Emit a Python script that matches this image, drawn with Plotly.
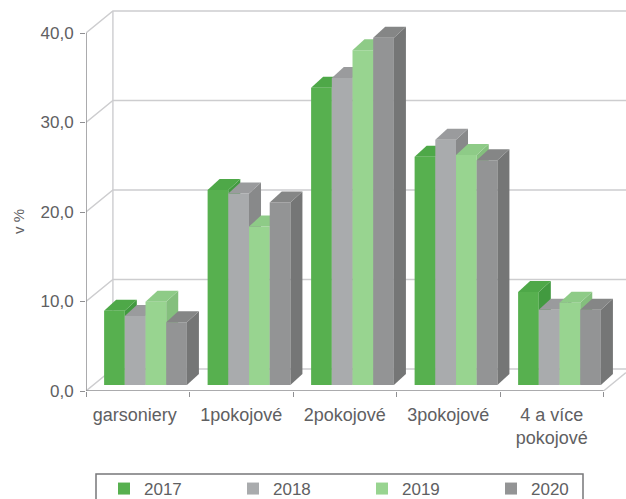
import plotly.graph_objects as go

categories = ["garsoniery", "1pokojové", "2pokojové", "3pokojové", "4 a více<br>pokojové"]
years = ["2017", "2018", "2019", "2020"]
v2017 = [8.3, 21.8, 33.2, 25.5, 10.4]
v2018 = [7.7, 21.4, 34.3, 27.4, 8.4]
v2019 = [9.3, 17.7, 37.4, 25.7, 9.2]
v2020 = [7.0, 20.4, 38.8, 25.1, 8.4]
series = [v2017, v2018, v2019, v2020]
front = ["#57b04f", "#a9abad", "#98d490", "#939495"]
top = ["#4ea848", "#9a9b9d", "#8ecb87", "#858686"]
side = ["#429a40", "#88898a", "#84bf7d", "#757676"]
y_ticks = [0, 10, 20, 30, 40]

W, H = 626, 499
LEFT, BOTTOM = 86, 108
X_MAX = (W - LEFT) / 103.5
Y_MAX = (H - BOTTOM - 5) / 8.95
PLOT_H = H - BOTTOM - 5
WALL_DX, WALL_DY = 0.26, 2.46
BAR_W, GROUP_OFF = 0.2, 0.175
BAR_DX, BAR_DY = 0.116, 1.23
BASE = 0.67
GRID = "#cdcdcf"
AXIS = "#8f8f92"
TEXT = "#606062"
FONT = "Liberation Sans"

fig = go.Figure()


def line(xs, ys, color=GRID, width=1.4):
    fig.add_trace(go.Scatter(x=xs, y=ys, mode="lines", line=dict(color=color, width=width),
                             showlegend=False, hoverinfo="skip", cliponaxis=False,
                             xaxis="x", yaxis="y"))


# walls and floor
for t in y_ticks:
    line([0, WALL_DX, X_MAX], [t, t + WALL_DY, t + WALL_DY])
line([WALL_DX, WALL_DX], [WALL_DY, 40 + WALL_DY])
line([5, 5 + (X_MAX - 5)], [0, WALL_DY * (X_MAX - 5) / WALL_DX])
# axis lines
line([0, 0], [0, 40], AXIS, 1.5)
line([0, 5], [0, 0], AXIS, 1.5)

for s, vals in enumerate(series):
    ax = str(s + 2)
    xs = [i + GROUP_OFF + BAR_W * (s + 0.5) for i in range(len(categories))]
    fig.add_trace(go.Bar(x=xs, y=vals, base=BASE, width=BAR_W, name=years[s],
                         marker=dict(color=front[s], line=dict(width=0)),
                         xaxis="x" + ax, yaxis="y" + ax))
    for x, v in zip(xs, vals):
        l, r = x - BAR_W / 2, x + BAR_W / 2
        t = v + BASE
        fig.add_trace(go.Scatter(
            x=[r, r + BAR_DX, r + BAR_DX, r, r],
            y=[BASE, BASE + BAR_DY, t + BAR_DY, t, BASE],
            fill="toself", fillcolor=side[s], mode="none", showlegend=False,
            hoverinfo="skip", xaxis="x" + ax, yaxis="y" + ax))
        fig.add_trace(go.Scatter(
            x=[l, l + BAR_DX, r + BAR_DX, r, l],
            y=[t, t + BAR_DY, t + BAR_DY, t, t],
            fill="toself", fillcolor=top[s], mode="none", showlegend=False,
            hoverinfo="skip", xaxis="x" + ax, yaxis="y" + ax))


def px_x(p):
    return (p - LEFT) / (W - LEFT)


def px_y(p):
    return (H - BOTTOM - p) / PLOT_H


layout = dict(
    width=W, height=H, autosize=False,
    margin=dict(l=LEFT, r=0, t=5, b=BOTTOM, autoexpand=False),
    paper_bgcolor="white", plot_bgcolor="white",
    barmode="overlay", separators=",.",
    font=dict(family=FONT, color=TEXT, size=15),
    xaxis=dict(range=[0, X_MAX], tickmode="array",
               tickvals=[0.47, 1.5, 2.5, 3.5, 4.5], ticktext=categories,
               ticks="", showgrid=False, zeroline=False, showline=False,
               tickfont=dict(size=18), ticklabelstandoff=11),
    yaxis=dict(range=[0, Y_MAX], tickmode="array", tickvals=y_ticks, tickformat=".1f",
               ticks="outside", ticklen=5, tickcolor=AXIS, showgrid=False, zeroline=False,
               showline=False, tickfont=dict(size=17), ticklabelstandoff=3),
    annotations=[dict(text="v %", xref="paper", yref="paper", x=px_x(18), y=px_y(222),
                      xanchor="center", yanchor="middle", textangle=-90, showarrow=False,
                      font=dict(size=15))],
    shapes=[dict(type="rect", xref="paper", yref="paper", x0=px_x(96), x1=px_x(583),
                 y0=px_y(474), y1=px_y(510), line=dict(color="#77777a", width=1.5),
                 fillcolor="rgba(0,0,0,0)", layer="below")],
    legend=dict(orientation="h", x=px_x(96), y=px_y(471),
                xanchor="left", yanchor="top", borderwidth=0,
                entrywidthmode="pixels", entrywidth=76, indentation=8, font=dict(size=17),
                bgcolor="rgba(0,0,0,0)"),
    showlegend=True,
)
for s in range(4):
    ax = str(s + 2)
    xa = dict(overlaying="x", range=[0, X_MAX], visible=False)
    if s == 0:
        xa = dict(overlaying="x", range=[0, X_MAX], visible=True, showticklabels=False,
                  showgrid=False, zeroline=False, showline=False, ticks="outside", ticklen=5,
                  tickcolor=AXIS, tickmode="array", tickvals=list(range(6)), anchor="y2", side="bottom")
    layout["xaxis" + ax] = xa
    layout["yaxis" + ax] = dict(overlaying="y", range=[0, Y_MAX], visible=False)

fig.update_layout(**layout)
fig.write_html("out.html", config={"displayModeBar": False},
               post_script="document.body.style.margin='0';")
